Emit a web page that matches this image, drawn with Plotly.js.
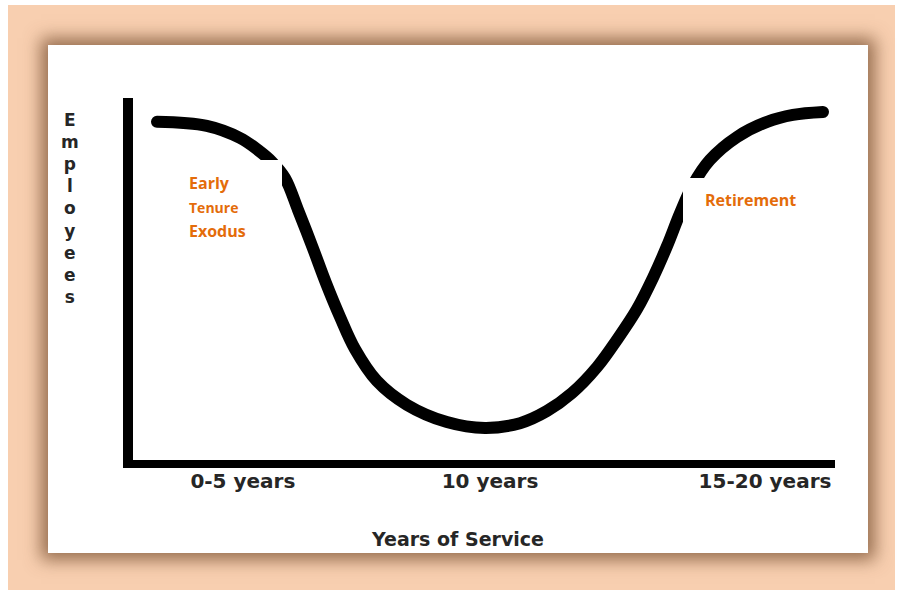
<!DOCTYPE html>
<html>
<head>
<meta charset="utf-8">
<script src="https://cdn.plot.ly/plotly-3.0.1.min.js"></script>
<style>
  html, body { margin: 0; padding: 0; background: #ffffff; }
  #frame { position: absolute; left: 8px; top: 5px; width: 887px; height: 585px; background: #F8CFB0; }
  #panel { position: absolute; left: 48px; top: 45px; width: 820px; height: 508px; background: #ffffff;
           box-shadow: 0 0 16px 7px rgba(110, 70, 40, 0.7); }
  #chart { position: absolute; left: 0; top: 0; width: 897px; height: 590px; }
  .js-line { stroke-linecap: round; }
</style>
</head>
<body>
<div id="frame"></div>
<div id="panel"></div>
<div id="chart"></div>
<script>
// Years of service (x) and relative number of employees (y)
const serviceYears = [0.82, 2.23, 3.17, 3.68, 4.07, 4.44, 4.81, 5.23, 5.60, 6.00, 6.42, 7.04, 7.89, 9.02, 10.10, 11.09, 11.85, 12.56, 13.27, 13.83, 14.40, 14.85, 15.25, 15.62, 15.98, 16.46, 17.23, 18.08, 18.81, 19.66];
const employees    = [93.5, 92.4, 89.1, 85.8, 82.6, 78.2, 69.5, 59.1, 49.6, 40.3, 31.6, 22.9, 16.4, 11.7, 10.1, 11.4, 14.7, 19.6, 26.7, 34.1, 42.5, 51.0, 59.7, 68.7, 76.3, 83.1, 89.4, 93.5, 95.4, 96.2];
const tickPositions = [3.25, 10.24, 18.02];
const tickLabels    = ['0-5 years', '10 years', '15-20 years'];
const xTitle = 'Years of Service';
const yTitleLetters = ['E', 'm', 'p', 'l', 'o', 'y', 'e', 'e', 's'];
const phaseLabelsLeft = ['Early', 'Tenure', 'Exodus'];
const phaseLabelRight = 'Retirement';

// plot area in pixels
const L = 133, R = 835, T = 98, B = 460;
const px = x => (x - L) / (R - L);
const py = y => (B - y) / (B - T);

const orange = '#E46C0A';
const axisText = '#262626';

const trace = {
  x: serviceYears, y: employees, type: 'scatter', mode: 'lines',
  line: { color: '#000000', width: 12, shape: 'spline', smoothing: 1 },
  hoverinfo: 'skip', showlegend: false
};

const annotations = [
  { text: phaseLabelsLeft[0], x: px(187), y: py(183), xanchor: 'left', yanchor: 'middle',
    font: { family: 'Open Sans', size: 16, color: orange, weight: 'bold' } },
  { text: phaseLabelsLeft[1], x: px(187), y: py(207), xanchor: 'left', yanchor: 'middle',
    font: { family: 'Open Sans', size: 14, color: orange, weight: 'bold' } },
  { text: phaseLabelsLeft[2], x: px(187), y: py(231), xanchor: 'left', yanchor: 'middle',
    font: { family: 'Open Sans', size: 16, color: orange, weight: 'bold' } },
  { text: phaseLabelRight, x: px(703), y: py(200), xanchor: 'left', yanchor: 'middle',
    font: { family: 'Open Sans', size: 16, color: orange, weight: 'bold' } },
  { text: xTitle, x: px(457), y: py(539), xanchor: 'center', yanchor: 'middle',
    font: { family: 'DejaVu Sans', size: 19, color: axisText, weight: 'bold' } },
  { text: yTitleLetters.join('<br>'), x: px(70), y: py(208), xanchor: 'center', yanchor: 'middle', align: 'center',
    font: { family: 'DejaVu Sans', size: 17, color: axisText, weight: 'bold' } }
].map(a => Object.assign({ xref: 'paper', yref: 'paper', showarrow: false }, a));

const shapes = [
  { type: 'rect', xref: 'paper', yref: 'paper', x0: px(160), x1: px(282), y0: py(250), y1: py(160),
    fillcolor: '#ffffff', line: { width: 0 }, layer: 'above' },
  { type: 'rect', xref: 'paper', yref: 'paper', x0: px(683), x1: px(845), y0: py(240), y1: py(178),
    fillcolor: '#ffffff', line: { width: 0 }, layer: 'above' }
];

const layout = {
  width: 897, height: 590,
  margin: { l: L, r: 897 - R, t: T, b: 590 - B, pad: 0 },
  paper_bgcolor: 'rgba(0,0,0,0)', plot_bgcolor: 'rgba(0,0,0,0)',
  showlegend: false,
  xaxis: {
    range: [0.1414, 20], showgrid: false, zeroline: false,
    showline: true, linecolor: '#000000', linewidth: 8,
    ticks: '', tickmode: 'array', tickvals: tickPositions, ticktext: tickLabels,
    tickfont: { family: 'DejaVu Sans', size: 20, color: axisText, weight: 'bold' },
    ticklabelstandoff: -4,
    fixedrange: true
  },
  yaxis: {
    range: [1.362, 100], showgrid: false, zeroline: false,
    showline: true, linecolor: '#000000', linewidth: 10,
    showticklabels: false, ticks: '', fixedrange: true
  },
  shapes: shapes,
  annotations: annotations
};

Plotly.newPlot('chart', [trace], layout, { staticPlot: true, displayModeBar: false });
</script>
</body>
</html>
